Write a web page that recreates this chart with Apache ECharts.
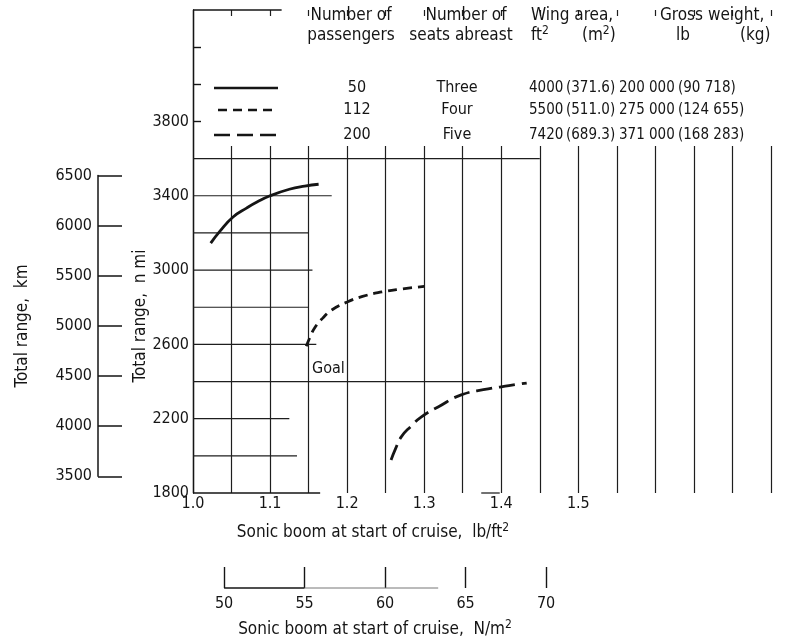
<!DOCTYPE html>
<html><head><meta charset="utf-8">
<script src="https://cdn.jsdelivr.net/npm/echarts@6/dist/echarts.min.js"></script>
<style>html,body{margin:0;padding:0;background:#fff}#c{width:801px;height:642px}</style>
</head><body><div id="c"></div>
<script>
// ---- legend table data ----
const passengers = [50, 112, 200];
const seatsAbreast = ['Three', 'Four', 'Five'];
const wingAreaFt2 = ['4000', '5500', '7420'];
const wingAreaM2 = ['(371.6)', '(511.0)', '(689.3)'];
const grossWeightLb = ['200 000', '275 000', '371 000'];
const grossWeightKg = ['(90 718)', '(124 655)', '(168 283)'];

// ---- curves: sonic boom (lb/ft^2) vs total range (n mi) ----
const boom50 = [1.023, 1.035, 1.052, 1.07, 1.083, 1.10, 1.125, 1.145, 1.163];
const range50 = [3145, 3210, 3286, 3335, 3366, 3400, 3435, 3452, 3462];
const boom112 = [1.147, 1.152, 1.158, 1.168, 1.18, 1.20, 1.22, 1.245, 1.27, 1.30];
const range112 = [2590, 2640, 2690, 2740, 2785, 2828, 2858, 2882, 2898, 2912];
const boom200 = [1.257, 1.263, 1.27, 1.283, 1.296, 1.318, 1.348, 1.383, 1.41, 1.433];
const range200 = [1978, 2040, 2101, 2160, 2209, 2263, 2328, 2360, 2378, 2392];

const goalRange = 2400;
const goalEnd = 1.375;

// ---- axes ----
const xTickLabels = [1.0, 1.1, 1.2, 1.3, 1.4, 1.5];
const yTickLabels = [1800, 2200, 2600, 3000, 3400, 3800];
const yExtraTicks = [3800, 4000, 4200];
const kmTicks = [3500, 4000, 4500, 5000, 5500, 6000, 6500];
const nm2Ticks = [50, 55, 60, 65, 70];

// partial horizontal grid lines: range value and where the line stops
const hGridRange = [3600, 3400, 3200, 3000, 2800, 2600, 2200, 2000];
const hGridEnd = [1.45, 1.18, 1.15, 1.155, 1.15, 1.16, 1.125, 1.135];

// ---- layout ----
const X_MIN = 1.0, X_MAX = 1.75, Y_MIN = 1800, Y_MAX = 4400;
const PLOT_L = 193, PLOT_R = 771, PLOT_T = 10, PLOT_B = 493;
const KM_PER_NMI = 1.852, NM2_PER_PSF = 47.88;
const yPx = v => PLOT_B - (v - Y_MIN) / (Y_MAX - Y_MIN) * (PLOT_B - PLOT_T);
const kmTop = yPx(kmTicks[kmTicks.length - 1] / KM_PER_NMI);
const kmBot = yPx(kmTicks[0] / KM_PER_NMI);

const FONT = "'DejaVu Sans Condensed', 'Liberation Sans Narrow', 'DejaVu Sans', sans-serif";
const INK = '#151515';
const GRID_LINE = { color: '#1e1e1e', width: 1.2 };

const chart = echarts.init(document.getElementById('c'), null, { renderer: 'canvas' });

function seg(data, style, xi, yi) {
  return {
    type: 'line', data: data, symbol: 'none', silent: true, clip: false,
    xAxisIndex: xi || 0, yAxisIndex: yi || 0, lineStyle: style, z: 1, animation: false
  };
}

const series = [];
hGridRange.forEach((r, i) => series.push(seg([[X_MIN, r], [hGridEnd[i], r]], GRID_LINE)));
series.push(seg([[X_MIN, goalRange], [goalEnd, goalRange]], GRID_LINE));
series.push(seg([[X_MIN, Y_MAX], [1.115, Y_MAX]], { color: INK, width: 1.4 }));
series.push(seg([[X_MIN, Y_MIN], [1.165, Y_MIN]], { color: INK, width: 1.4 }));
series.push(seg([[1.374, Y_MIN], [1.398, Y_MIN]], { color: INK, width: 1.2 }));

const curveStyle = (type) => ({ color: INK, width: 2.8, type: type, cap: 'butt' });
series.push({
  type: 'line', name: '50', data: boom50.map((b, i) => [b, range50[i]]), smooth: true,
  symbol: 'none', lineStyle: curveStyle('solid'), z: 5, animation: false
});
series.push({
  type: 'line', name: '112', data: boom112.map((b, i) => [b, range112[i]]), smooth: true,
  symbol: 'none', lineStyle: curveStyle([9, 6]), z: 5, animation: false
});
series.push({
  type: 'line', name: '200', data: boom200.map((b, i) => [b, range200[i]]), smooth: true,
  symbol: 'none', lineStyle: curveStyle([16, 7]), z: 5, animation: false
});
// N/m^2 scale line
series.push(seg([[nm2Ticks[0], 0], [nm2Ticks[1], 0]], { color: INK, width: 1.3 }, 2, 2));
series.push(seg([[nm2Ticks[1], 0], [63.3, 0]], { color: '#777', width: 1 }, 2, 2));

const plain = v => String(v);
const labelStyle = { color: INK, fontSize: 16, fontFamily: FONT };

// legend graphics
const g = [];
g.push({ type: 'rect', shape: { x: 203, y: 16, width: 600, height: 130 }, style: { fill: '#fff' }, z: 50, silent: true });
function txt(x, y, text, align, size, extra) {
  return Object.assign({
    type: 'text', x: x, y: y, z: 60, silent: true,
    style: Object.assign({ text: text, fill: INK, fontSize: size || 17, fontFamily: FONT, align: align || 'left', verticalAlign: 'middle' }, extra || {})
  });
}
const supRich = {
  t: { fontSize: 17, fontFamily: FONT, fill: INK, lineHeight: 22 },
  s: { fontSize: 12, fontFamily: FONT, fill: INK, verticalAlign: 'top', lineHeight: 12 }
};
const H1 = 16, H2 = 36;
g.push(txt(351, H1, 'Number of', 'center'));
g.push(txt(351, H2, 'passengers', 'center'));
g.push(txt(466, H1, 'Number of', 'center'));
g.push(txt(461, H2, 'seats abreast', 'center'));
g.push(txt(531, H1, 'Wing area,', 'left'));
g.push(txt(531, H2, '{t|ft}{s|2}', 'left', 17, { rich: supRich }));
g.push(txt(582, H2, '{t|(m}{s|2}{t|)}', 'left', 17, { rich: supRich }));
g.push(txt(660, H1, 'Gross weight,', 'left'));
g.push(txt(676, H2, 'lb', 'left'));
g.push(txt(740, H2, '(kg)', 'left'));

const rowsY = [88, 110, 135];
const sampleDash = ['solid', [9, 6], [16, 7]];
const sampleX = [[214, 278], [218, 278], [214, 280]];
const DATA_FS = 15;
rowsY.forEach((y, i) => {
  g.push({
    type: 'line', z: 60, silent: true,
    shape: { x1: sampleX[i][0], y1: y, x2: sampleX[i][1], y2: y },
    style: { stroke: INK, lineWidth: 2.6, lineDash: sampleDash[i] === 'solid' ? null : sampleDash[i] }
  });
  g.push(txt(357, y, String(passengers[i]), 'center', 16));
  g.push(txt(457, y, seatsAbreast[i], 'center', 16));
  g.push(txt(529, y, wingAreaFt2[i], 'left', DATA_FS));
  g.push(txt(566, y, wingAreaM2[i], 'left', DATA_FS));
  g.push(txt(619, y, grossWeightLb[i], 'left', DATA_FS));
  g.push(txt(678, y, grossWeightKg[i], 'left', DATA_FS));
});

// goal label and titles
g.push(txt(312, yPx(goalRange) - 13, 'Goal', 'left', 16));
g.push(txt(373, 533, '{t|Sonic boom at start of cruise,  lb/ft}{s|2}', 'center', 17, { rich: supRich }));
g.push(txt(375, 630, '{t|Sonic boom at start of cruise,  N/m}{s|2}', 'center', 17, { rich: supRich }));
g.push(Object.assign(txt(141, 316, 'Total range,  n mi', 'center'), { rotation: Math.PI / 2 }));
g.push(Object.assign(txt(23, 326, 'Total range,  km', 'center'), { rotation: Math.PI / 2 }));

const option = {
  animation: false,
  backgroundColor: '#fff',
  textStyle: { fontFamily: FONT },
  grid: [
    { left: PLOT_L, right: 801 - PLOT_R, top: PLOT_T, bottom: 642 - PLOT_B },
    { left: 98, width: 1, top: kmTop, height: kmBot - kmTop },
    { left: PLOT_L - 3, right: 801 - PLOT_R + 3, top: 567, height: 21 }
  ],
  xAxis: [
    {
      type: 'value', gridIndex: 0, min: X_MIN, max: X_MAX, interval: 0.05,
      axisLine: { show: false }, axisTick: { show: false },
      axisLabel: Object.assign({ customValues: xTickLabels, margin: 3, formatter: v => v.toFixed(1) }, labelStyle),
      splitLine: { show: true, lineStyle: GRID_LINE }
    },
    { type: 'value', gridIndex: 1, show: false, min: 0, max: 1 },
    {
      type: 'value', gridIndex: 2, min: X_MIN * NM2_PER_PSF, max: X_MAX * NM2_PER_PSF, position: 'bottom',
      axisLine: { show: false },
      axisTick: { show: true, customValues: nm2Ticks, inside: true, length: 21, lineStyle: { color: INK, width: 1.4 } },
      axisLabel: Object.assign({ customValues: nm2Ticks, margin: 8, formatter: plain }, labelStyle),
      splitLine: { show: false }
    }
  ],
  yAxis: [
    {
      type: 'value', gridIndex: 0, min: Y_MIN, max: Y_MAX, interval: 200,
      axisLine: { show: true, lineStyle: { color: INK, width: 1.4 } },
      axisTick: { show: true, customValues: yExtraTicks, inside: true, length: 8, lineStyle: { color: INK, width: 1.4 } },
      axisLabel: Object.assign({ customValues: yTickLabels, margin: 4, formatter: plain }, labelStyle),
      splitLine: { show: false }
    },
    {
      type: 'value', gridIndex: 1, min: kmTicks[0], max: kmTicks[kmTicks.length - 1], interval: 500,
      axisLine: { show: true, lineStyle: { color: INK, width: 1.5 } },
      axisTick: { show: true, inside: true, length: 24, lineStyle: { color: INK, width: 1.5 } },
      axisLabel: Object.assign({ margin: 6, formatter: plain }, labelStyle),
      splitLine: { show: false }
    },
    { type: 'value', gridIndex: 2, show: false, min: 0, max: 1 }
  ],
  graphic: { elements: g },
  series: series
};
chart.setOption(option);
</script></body></html>
